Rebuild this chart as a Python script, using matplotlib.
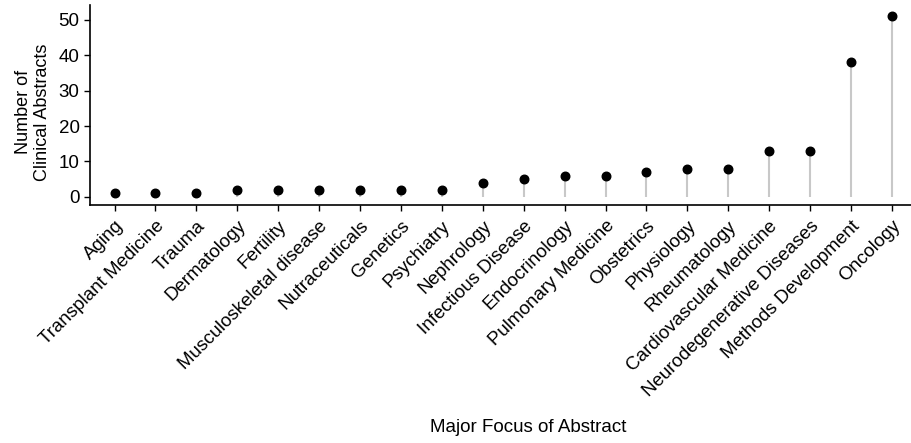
import matplotlib
matplotlib.use("Agg")
import matplotlib.pyplot as plt

categories = [
    "Aging", "Transplant Medicine", "Trauma", "Dermatology", "Fertility",
    "Musculoskeletal disease", "Nutraceuticals", "Genetics", "Psychiatry",
    "Nephrology", "Infectious Disease", "Endocrinology", "Pulmonary Medicine",
    "Obstetrics", "Physiology", "Rheumatology", "Cardiovascular Medicine",
    "Neurodegenerative Diseases", "Methods Development", "Oncology",
]
counts = [1, 1, 1, 2, 2, 2, 2, 2, 2, 4, 5, 6, 6, 7, 8, 8, 13, 13, 38, 51]
y_ticks = [0, 10, 20, 30, 40, 50]

plt.rcParams["font.family"] = ["Liberation Sans", "DejaVu Sans"]
fs = 13.5

fig = plt.figure(figsize=(9.11, 4.43), dpi=100)
ax = fig.add_axes([90 / 911, 1 - 205 / 443, 1 - 90 / 911 + 0.006, 200 / 443])

x = range(len(categories))
ax.vlines(x, 0, counts, color="#c8c8c8", linewidth=1.5, zorder=1)
ax.scatter(x, counts, s=38, color="black", zorder=2)

ax.set_xlim(-0.6, len(categories) - 0.4)
ax.set_ylim(-2.3, 54.2)
ax.set_yticks(y_ticks)
ax.set_xticks(list(x))
ax.set_xticklabels(categories, rotation=45, ha="right", rotation_mode="anchor")
ax.tick_params(labelsize=fs, colors="black", length=4, width=1)
ax.tick_params(axis="x", pad=5)

for s in ["top", "right"]:
    ax.spines[s].set_visible(False)
for s in ["left", "bottom"]:
    ax.spines[s].set_linewidth(1.2)

ax.set_ylabel("Number of\nClinical Abstracts", fontsize=13)
ax.yaxis.set_label_coords(-0.047, 0.465)
fig.text(528 / 911, 1 - 427 / 443, "Major Focus of Abstract", fontsize=fs,
         ha="center", va="center")

fig.savefig("out.png", dpi=100)
